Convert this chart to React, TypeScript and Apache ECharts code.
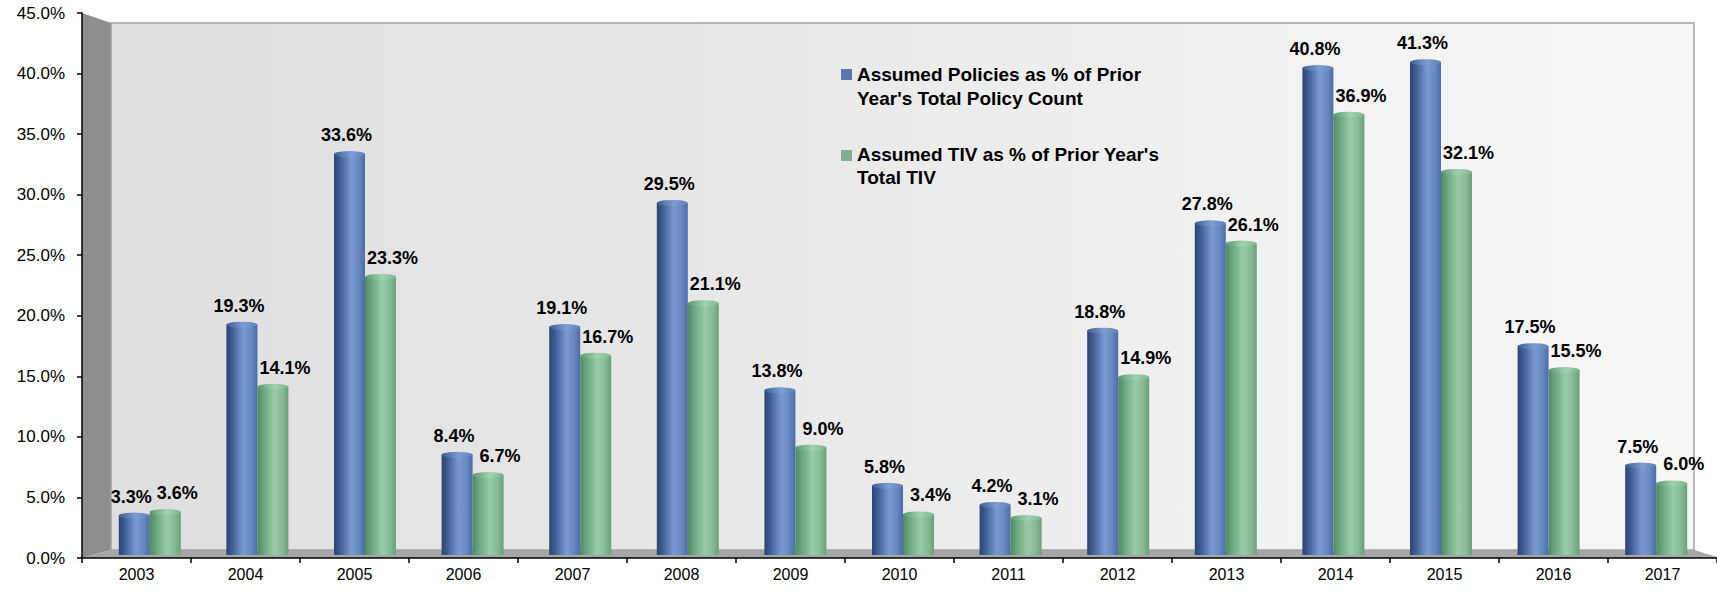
import React, { useEffect, useRef } from "react";
import * as echarts from "echarts";

const years = ["2003", "2004", "2005", "2006", "2007", "2008", "2009", "2010", "2011", "2012", "2013", "2014", "2015", "2016", "2017"];
const policyPct = [3.3, 19.3, 33.6, 8.4, 19.1, 29.5, 13.8, 5.8, 4.2, 18.8, 27.8, 40.8, 41.3, 17.5, 7.5];
const tivPct = [3.6, 14.1, 23.3, 6.7, 16.7, 21.1, 9.0, 3.4, 3.1, 14.9, 26.1, 36.9, 32.1, 15.5, 6.0];
const seriesNames = [
  "Assumed Policies as % of Prior\nYear's Total Policy Count",
  "Assumed TIV as % of Prior Year's\nTotal TIV",
];
const yMin = 0;
const yMax = 45;
const yStep = 5;

const FONT = "'Liberation Sans', Arial, Helvetica, sans-serif";

const grad = (stops: [number, string][]) =>
  new echarts.graphic.LinearGradient(0, 0, 1, 0, stops.map(([offset, color]) => ({ offset, color })));

const blueBody = () =>
  grad([
    [0, "#2c4470"],
    [0.2, "#405f96"],
    [0.55, "#789ad2"],
    [0.8, "#6888c1"],
    [1, "#4c6ca2"],
  ]);
const greenBody = () =>
  grad([
    [0, "#4f8a63"],
    [0.2, "#6aa57e"],
    [0.55, "#98cca7"],
    [0.8, "#86bb96"],
    [1, "#6a9f7a"],
  ]);
const blueCap = () =>
  grad([
    [0, "#3f5d92"],
    [0.55, "#7d9dd4"],
    [1, "#5f80b8"],
  ]);
const greenCap = () =>
  grad([
    [0, "#5f9872"],
    [0.55, "#a0d2ae"],
    [1, "#7fb490"],
  ]);

const pct = (v: number) => v.toFixed(1) + "%";

export default function App() {
  const ref = useRef<HTMLDivElement>(null);

  useEffect(() => {
    if (!ref.current) return;
    const chart = echarts.init(ref.current, null, { renderer: "svg" });

    const barLabel = (dx: number) => ({
      show: true,
      position: "top" as const,
      distance: 10,
      offset: [dx, 0],
      formatter: (p: any) => pct(p.value),
      fontFamily: FONT,
      fontSize: 18,
      fontWeight: "bold" as const,
      color: "#000",
    });

    const capSeries = (name: string, data: number[], color: any) => ({
      name,
      type: "pictorialBar",
      xAxisIndex: 1,
      yAxisIndex: 1,
      data,
      barWidth: 31,
      barGap: "0%",
      symbol: "circle",
      symbolSize: [31, 6],
      symbolPosition: "end",
      symbolOffset: [0, "-50%"],
      z: 4,
      silent: true,
      itemStyle: { color },
    });

    const option: any = {
      animation: false,
      backgroundColor: "#ffffff",
      grid: [
        { left: 82, top: 13, width: 1638, height: 545 },
        { left: 96, top: 18, width: 1614, height: 537 },
      ],
      xAxis: [
        {
          type: "category",
          gridIndex: 0,
          data: years,
          axisLine: { show: true, lineStyle: { color: "#000", width: 1.5 } },
          axisTick: { show: true, length: 5, lineStyle: { color: "#000", width: 1.5 } },
          axisLabel: { color: "#000", fontSize: 16, fontFamily: FONT, margin: 8 },
          splitLine: { show: false },
        },
        { type: "category", gridIndex: 1, data: years, show: false },
      ],
      yAxis: [
        {
          type: "value",
          gridIndex: 0,
          min: yMin,
          max: yMax,
          interval: yStep,
          axisLine: { show: true, lineStyle: { color: "#000", width: 1.5 } },
          axisTick: { show: true, length: 5, lineStyle: { color: "#000", width: 1.5 } },
          axisLabel: { color: "#000", fontSize: 17, fontFamily: FONT, margin: 17, formatter: (v: number) => pct(v) },
          splitLine: { show: false },
        },
        { type: "value", gridIndex: 1, min: yMin, max: yMax, interval: yStep, show: false },
      ],
      graphic: [
        {
          type: "polygon",
          z: -10,
          silent: true,
          shape: { points: [[82, 13], [111, 23], [111, 550], [82, 558]] },
          style: { fill: "#8e8e8e" },
        },
        {
          type: "rect",
          z: -10,
          silent: true,
          shape: { x: 111, y: 23, width: 1583, height: 527 },
          style: {
            fill: new echarts.graphic.LinearGradient(0, 0, 1, 0, [
              { offset: 0, color: "#dedede" },
              { offset: 1, color: "#f8f8f8" },
            ]),
            stroke: "#a3a3a3",
            lineWidth: 1.5,
          },
        },
        {
          type: "polygon",
          z: -9,
          silent: true,
          shape: { points: [[82, 558], [111, 550], [1694, 550], [1720, 558]] },
          style: { fill: "#a6a6a6" },
        },
        {
          type: "rect",
          z: 10,
          shape: { x: 841, y: 69, width: 11, height: 11 },
          style: { fill: "#5878ae" },
        },
        {
          type: "text",
          z: 10,
          x: 857,
          y: 62,
          style: {
            text: seriesNames[0],
            font: `bold 19px ${FONT}`,
            lineHeight: 24,
            fill: "#000",
            verticalAlign: "top",
          },
        },
        {
          type: "rect",
          z: 10,
          shape: { x: 841, y: 150, width: 11, height: 11 },
          style: { fill: "#80b08f" },
        },
        {
          type: "text",
          z: 10,
          x: 857,
          y: 143,
          style: {
            text: seriesNames[1],
            font: `bold 19px ${FONT}`,
            lineHeight: 23,
            fill: "#000",
            verticalAlign: "top",
          },
        },
      ],
      series: [
        {
          name: seriesNames[0],
          type: "bar",
          xAxisIndex: 1,
          yAxisIndex: 1,
          data: policyPct,
          barWidth: 31,
          barGap: "0%",
          z: 3,
          itemStyle: { color: blueBody() },
          label: barLabel(-3),
        },
        {
          name: seriesNames[1],
          type: "bar",
          xAxisIndex: 1,
          yAxisIndex: 1,
          data: tivPct,
          barWidth: 31,
          barGap: "0%",
          z: 3,
          itemStyle: { color: greenBody() },
          label: barLabel(12),
        },
        capSeries(seriesNames[0] + " cap", policyPct, blueCap()),
        capSeries(seriesNames[1] + " cap", tivPct, greenCap()),
      ],
    };

    chart.setOption(option);
    return () => {
      chart.dispose();
    };
  }, []);

  return (
    <div
      ref={ref}
      style={{ position: "absolute", left: 0, top: 0, width: 1717, height: 590 }}
    />
  );
}
